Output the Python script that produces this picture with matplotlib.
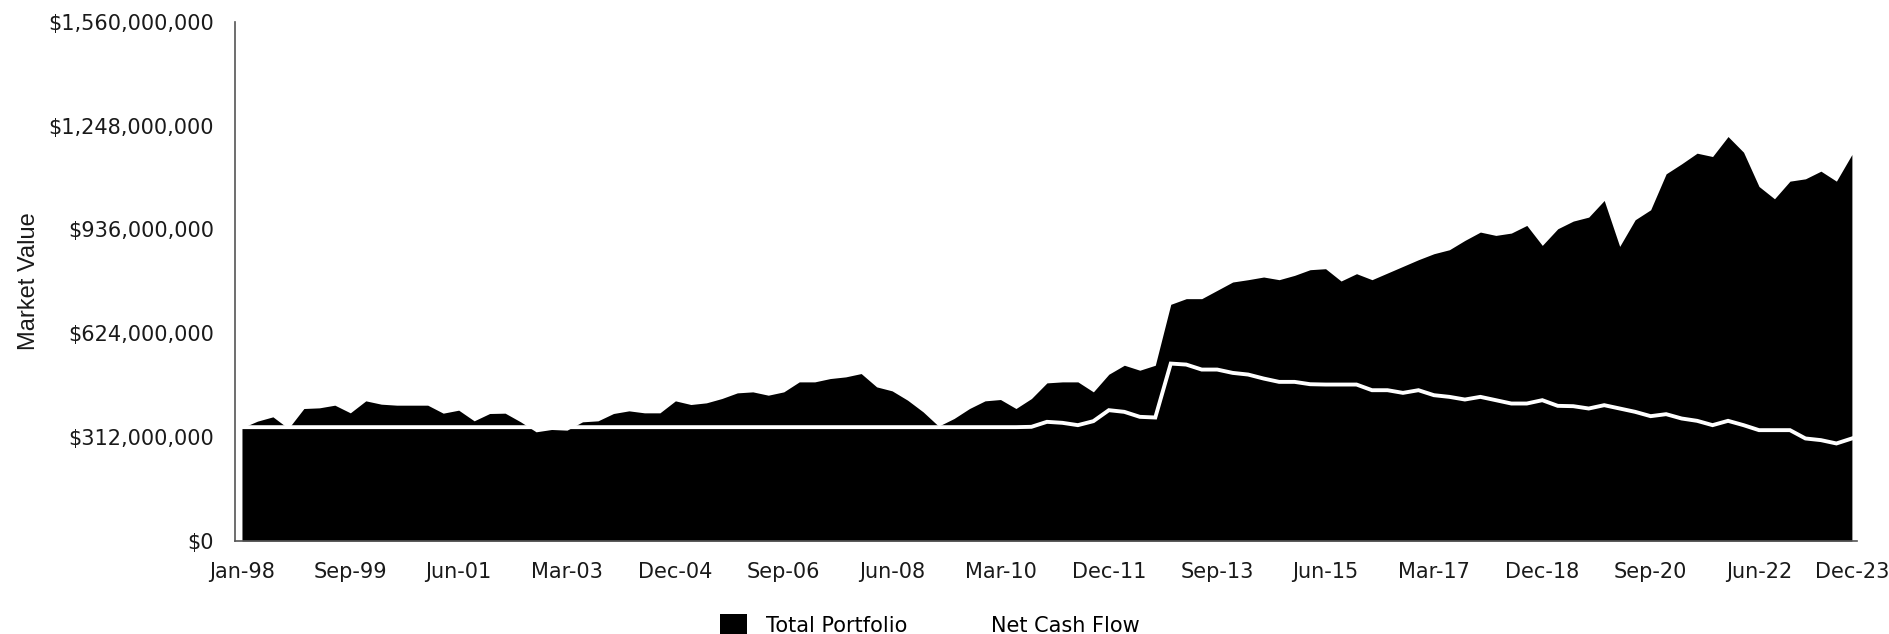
import numpy as np
import matplotlib.pyplot as plt
from matplotlib.patches import Patch
from matplotlib.lines import Line2D
from matplotlib.ticker import StrMethodFormatter

# quarterly market values, $ millions (Jan-98 .. Dec-23)
total_portfolio = [
    340, 360, 373, 338, 398, 400, 408, 385, 421, 411,
    408, 408, 408, 384, 393, 361, 383, 384, 358, 328,
    335, 333, 358, 361, 383, 391, 385, 385, 421, 410,
    415, 428, 445, 448, 438, 448, 478, 478, 488, 493,
    503, 463, 451, 423, 388, 345, 368, 398, 421, 425,
    398, 428, 475, 478, 478, 448, 501, 528, 513, 528,
    711, 728, 728, 753, 778, 785, 793, 785, 798, 815,
    818, 781, 803, 785, 805, 825, 845, 863, 875, 903,
    928, 918, 925, 948, 888, 938, 961, 973, 1023, 885,
    965, 995, 1103, 1133, 1165, 1155, 1215, 1168, 1065, 1028,
    1081, 1088, 1111, 1081, 1161,
]
net_cash_flow = [342] * 51 + [
    343, 358, 355, 348, 360, 393, 388, 373, 371, 533,
    530, 515, 515, 505, 500, 488, 478, 478, 471, 470,
    470, 470, 453, 453, 445, 453, 438, 433, 425, 433,
    423, 413, 413, 423, 406, 405, 398, 408, 398, 388,
    375, 381, 368, 361, 348, 361, 348, 333, 333, 333,
    308, 303, 293, 308,
]
tick_pos = [0, 7, 14, 21, 28, 35, 42, 49, 56, 63, 70, 77, 84, 91, 98, 104]
tick_labels = ['Jan-98', 'Sep-99', 'Jun-01', 'Mar-03', 'Dec-04', 'Sep-06',
               'Jun-08', 'Mar-10', 'Dec-11', 'Sep-13', 'Jun-15', 'Mar-17',
               'Dec-18', 'Sep-20', 'Jun-22', 'Dec-23']
y_ticks = [0, 312e6, 624e6, 936e6, 1248e6, 1560e6]

tp = np.array(total_portfolio) * 1e6
ncf = np.array(net_cash_flow) * 1e6
x = np.arange(len(tp))

plt.rcParams['font.family'] = ['DejaVu Sans']

fig = plt.figure(figsize=(18.89, 6.34), dpi=100)
ax_w = (1857 - 235) / 1889
ax = fig.add_axes([235 / 1889, 1 - 541 / 634, ax_w, (541 - 21.7) / 634])

ax.fill_between(x, 0, tp, color='black', linewidth=0)
ax.plot(x, ncf, color='white', linewidth=2.8, solid_joinstyle='miter')

ax.set_xlim(-0.45, 104.33)
ax.set_ylim(0, 1560e6)
ax.set_xticks(tick_pos)
ax.set_xticklabels(tick_labels)
ax.set_yticks(y_ticks)
ax.yaxis.set_major_formatter(StrMethodFormatter('${x:,.0f}'))
ax.tick_params(axis='both', length=0, labelsize=15, pad=15, colors='#1a1a1a')

for s in ['top', 'right']:
    ax.spines[s].set_visible(False)
for s in ['left', 'bottom']:
    ax.spines[s].set_color('#555555')
    ax.spines[s].set_linewidth(1.2)

ax.set_ylabel('Market Value', family='Liberation Sans', fontsize=17,
              color='#1a1a1a')
ax.yaxis.set_label_coords(-(235 - 40) / 1622, 0.5)

handles = [Patch(facecolor='black', edgecolor='none'),
           Line2D([], [], color='white', linewidth=2.8)]
fig.legend(handles, ['Total Portfolio', 'Net Cash Flow'], ncol=2,
           loc='upper left', bbox_to_anchor=(720 / 1889, 1 - 614 / 634),
           frameon=False, fontsize=15, borderpad=0, borderaxespad=0,
           handlelength=1.3, handleheight=1.3, handletextpad=0.9,
           columnspacing=1.8)

fig.savefig('out.png', dpi=100)
